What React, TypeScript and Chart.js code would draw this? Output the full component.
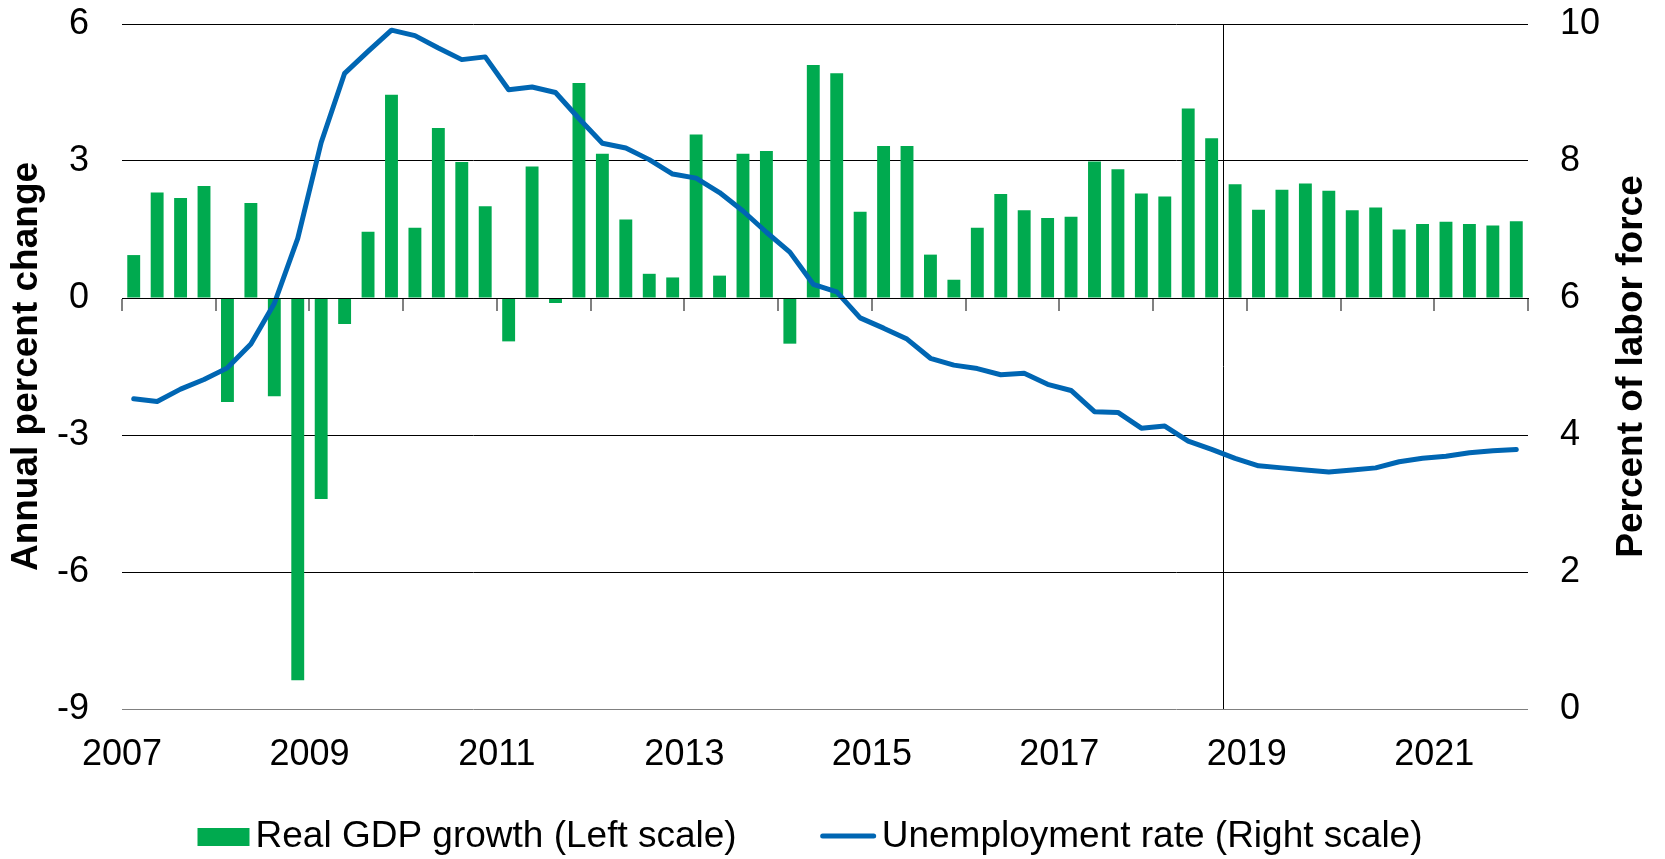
import React, { useEffect, useRef } from 'react';
import { Chart, registerables } from 'chart.js';

Chart.register(...registerables);

const YEARS = ['2007', '2008', '2009', '2010', '2011', '2012', '2013', '2014', '2015', '2016', '2017', '2018', '2019', '2020', '2021'];
const QUARTER_NAMES = ['Q1', 'Q2', 'Q3', 'Q4'];
const CATEGORIES = YEARS.flatMap((y) => QUARTER_NAMES.map((q) => y + q));

const GDP_GROWTH = [
  0.94, 2.31, 2.19, 2.45,
  -2.28, 2.08, -2.15, -8.37,
  -4.40, -0.57, 1.45, 4.45,
  1.54, 3.72, 2.98, 2.01,
  -0.95, 2.88, -0.11, 4.71,
  3.16, 1.72, 0.53, 0.45,
  3.58, 0.49, 3.16, 3.22,
  -1.00, 5.10, 4.92, 1.89,
  3.33, 3.33, 0.95, 0.40,
  1.54, 2.28, 1.92, 1.75,
  1.78, 2.99, 2.82, 2.29,
  2.22, 4.15, 3.50, 2.49,
  1.93, 2.37, 2.51, 2.35,
  1.92, 1.98, 1.50, 1.62,
  1.67, 1.62, 1.59, 1.68,
];

const UNEMPLOYMENT = [
  4.53, 4.49, 4.67, 4.81,
  4.98, 5.33, 5.92, 6.87,
  8.27, 9.28, 9.60, 9.91,
  9.83, 9.65, 9.48, 9.52,
  9.04, 9.08, 9.00, 8.62,
  8.26, 8.19, 8.02, 7.81,
  7.75, 7.54, 7.27, 6.96,
  6.67, 6.20, 6.09, 5.71,
  5.56, 5.40, 5.12, 5.02,
  4.97, 4.88, 4.90, 4.74,
  4.65, 4.34, 4.33, 4.10,
  4.13, 3.91, 3.79, 3.66,
  3.55, 3.52, 3.49, 3.46,
  3.49, 3.52, 3.61, 3.66,
  3.69, 3.74, 3.77, 3.79,
];

const X_TICK_LABELS = ['2007', '2009', '2011', '2013', '2015', '2017', '2019', '2021'];
const QUARTERS_PER_LABEL = 8;
const QUARTERS_PER_TICK = 4;
const FORECAST_START = '2018Q4';

const GDP_LABEL = 'Real GDP growth (Left scale)';
const UNEMP_LABEL = 'Unemployment rate (Right scale)';
const LEFT_TITLE = 'Annual percent change';
const RIGHT_TITLE = 'Percent of labor force';

const GREEN = '#00AA4F';
const BLUE = '#0066B3';
const FONT = "'Liberation Sans', Arial, Helvetica, sans-serif";

const W = 1665;
const H = 859;

const customPlugin = {
  id: 'customDecor',
  beforeDatasetsDraw(chart: any) {
    const { ctx, chartArea, scales } = chart;
    const idx = CATEGORIES.indexOf(FORECAST_START);
    const x = Math.round(scales.xl.getPixelForValue(idx)) + 0.5;
    ctx.save();
    ctx.strokeStyle = '#000';
    ctx.lineWidth = 1;
    ctx.beginPath();
    ctx.moveTo(x, chartArea.top);
    ctx.lineTo(x, chartArea.bottom);
    ctx.stroke();
    ctx.restore();
  },
  afterDraw(chart: any) {
    const { ctx, chartArea, scales } = chart;
    // right axis title, reading bottom to top
    ctx.save();
    ctx.fillStyle = '#000';
    ctx.font = `bold 37px ${FONT}`;
    ctx.textAlign = 'center';
    ctx.textBaseline = 'middle';
    ctx.translate(scales.y1.right - 33, (chartArea.top + chartArea.bottom) / 2);
    ctx.rotate(-Math.PI / 2);
    ctx.fillText(RIGHT_TITLE, 0, 0);
    ctx.restore();

    // legend
    const ds = chart.data.datasets;
    const bar = ds.find((d: any) => d.type !== 'line');
    const line = ds.find((d: any) => d.type === 'line');
    ctx.save();
    ctx.font = `37px ${FONT}`;
    ctx.fillStyle = '#000';
    ctx.textBaseline = 'alphabetic';
    const baseY = 847;
    const boxW = 52;
    const lineW = 55;
    const gap = 6;
    const itemGap = 84;
    const t1 = ctx.measureText(bar.label).width;
    const t2 = ctx.measureText(line.label).width;
    const total = boxW + gap + t1 + itemGap + lineW + gap + t2;
    let x = 810 - total / 2;
    ctx.fillStyle = bar.backgroundColor;
    ctx.fillRect(x, 828, boxW, 18);
    x += boxW + gap;
    ctx.fillStyle = '#000';
    ctx.fillText(bar.label, x, baseY);
    x += t1 + itemGap;
    ctx.strokeStyle = line.borderColor;
    ctx.lineWidth = 5;
    ctx.lineCap = 'round';
    ctx.beginPath();
    ctx.moveTo(x + 2, 836);
    ctx.lineTo(x + lineW - 2, 836);
    ctx.stroke();
    x += lineW + gap;
    ctx.fillText(line.label, x, baseY);
    ctx.restore();
  },
};

export default function App() {
  const canvasRef = useRef<HTMLCanvasElement | null>(null);

  useEffect(() => {
    if (!canvasRef.current) return;
    Chart.defaults.font.family = FONT;
    Chart.defaults.color = '#000';

    const tickFont = { family: FONT, size: 36 };

    const chart = new Chart(canvasRef.current, {
      type: 'bar',
      data: {
        labels: CATEGORIES,
        datasets: [
          {
            type: 'line',
            label: UNEMP_LABEL,
            data: UNEMPLOYMENT,
            borderColor: BLUE,
            backgroundColor: BLUE,
            borderWidth: 5,
            pointRadius: 0,
            tension: 0,
            borderCapStyle: 'round',
            borderJoinStyle: 'round',
            xAxisID: 'x',
            yAxisID: 'y1',
            order: 1,
          } as any,
          {
            type: 'bar',
            label: GDP_LABEL,
            data: GDP_GROWTH,
            backgroundColor: GREEN,
            borderWidth: 0,
            barPercentage: 0.55,
            categoryPercentage: 1.0,
            xAxisID: 'x',
            yAxisID: 'y',
            order: 2,
          } as any,
        ],
      },
      options: {
        responsive: false,
        animation: false,
        events: [],
        layout: { padding: { top: 24, left: 0, right: 0, bottom: 0 } },
        plugins: {
          legend: { display: false },
          tooltip: { enabled: false },
          title: { display: false },
        },
        scales: {
          x: {
            type: 'category',
            position: { y: 0 } as any,
            offset: true,
            grid: {
              display: true,
              offset: true,
              drawOnChartArea: false,
              drawTicks: true,
              tickLength: 12,
              lineWidth: 2,
              color: (c: any) =>
                c.index === undefined || c.index % QUARTERS_PER_TICK === 0 ? '#808080' : 'rgba(0,0,0,0)',
            },
            border: { display: true, color: '#000', width: 1, z: 1 },
            ticks: { display: false },
            afterFit: (s: any) => {
              s.paddingLeft = 0;
              s.paddingRight = 0;
            },
          },
          xl: {
            type: 'linear',
            position: 'bottom',
            min: 0,
            max: CATEGORIES.length,
            offset: false,
            grid: { display: false, drawTicks: false, offset: false },
            border: { display: false },
            ticks: {
              stepSize: QUARTERS_PER_LABEL,
              autoSkip: false,
              maxRotation: 0,
              minRotation: 0,
              padding: 24,
              color: '#000',
              font: tickFont,
              callback: (v: any) => {
                const n = Number(v);
                if (n % QUARTERS_PER_LABEL !== 0) return '';
                return X_TICK_LABELS[n / QUARTERS_PER_LABEL] ?? '';
              },
            },
            afterFit: (s: any) => {
              s.height = 150;
              s.paddingLeft = 0;
              s.paddingRight = 0;
            },
          },
          y: {
            type: 'linear',
            position: 'left',
            min: -9,
            max: 6,
            grid: {
              drawTicks: false,
              lineWidth: 1,
              color: (c: any) => (c.tick && c.tick.value === -9 ? '#808080' : '#000'),
            },
            border: { display: false },
            ticks: { stepSize: 3, padding: 33, color: '#000', font: tickFont },
            title: {
              display: true,
              text: LEFT_TITLE,
              color: '#000',
              font: { family: FONT, size: 37, weight: 'bold' },
              padding: { top: 5, bottom: 0 },
            },
            afterFit: (s: any) => {
              s.width = 122;
              s.paddingTop = 0;
              s.paddingBottom = 0;
            },
          },
          y1: {
            type: 'linear',
            position: 'right',
            min: 0,
            max: 10,
            grid: { display: false, drawTicks: false, drawOnChartArea: false },
            border: { display: false },
            ticks: { stepSize: 2, padding: 32, color: '#000', font: tickFont },
            afterFit: (s: any) => {
              s.width = 137;
              s.paddingTop = 0;
              s.paddingBottom = 0;
            },
          },
        } as any,
      },
      plugins: [customPlugin],
    });

    return () => chart.destroy();
  }, []);

  return (
    <div style={{ position: 'absolute', left: 0, top: 0, width: W, height: H, background: '#fff' }}>
      <canvas ref={canvasRef} width={W} height={H} style={{ display: 'block', width: W, height: H }} />
    </div>
  );
}
